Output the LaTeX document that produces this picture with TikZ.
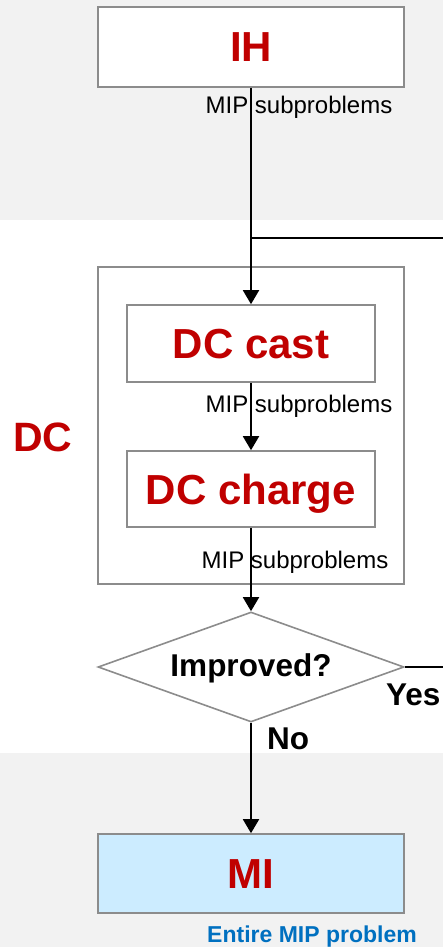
\documentclass[tikz,border=0pt]{standalone}
\usepackage{fontspec}
\setmainfont{Liberation Sans}
\usetikzlibrary{arrows.meta,shapes.geometric}
\definecolor{bandgray}{HTML}{F2F2F2}
\definecolor{boxgray}{HTML}{8C8C8C}
\definecolor{darkred}{HTML}{C00000}
\definecolor{miblue}{HTML}{CCECFF}
\definecolor{txtblue}{HTML}{0070C0}
\newcommand{\myfs}[1]{\fontsize{#1}{#1}\selectfont}
\tikzset{
  stagebox/.style={draw=boxgray, line width=1.6pt, fill=white, rectangle, inner sep=0pt,
    text height=30pt, text depth=0pt, font=\myfs{42}\bfseries, text=darkred},
  flow/.style={draw=black, line width=1.9pt},
  flowarrow/.style={flow, -{Triangle[width=16pt,length=14pt]}},
  smalllbl/.style={inner sep=0pt, anchor=base, font=\myfs{24}},
  boldlbl/.style={inner sep=0pt, font=\myfs{31.5}\bfseries},
}
\begin{document}
\begin{tikzpicture}[x=1pt,y=-1pt]
\useasboundingbox (0,0) rectangle (443,947);
% background bands
\fill[bandgray] (0,0) rectangle (443,220);
\fill[bandgray] (0,753) rectangle (443,947);

% outer DC box
\node[draw=boxgray, line width=1.6pt, rectangle, inner sep=0pt, minimum width=306pt, minimum height=317pt] (dcouter) at (251,425.5) {};

% boxes
\node[stagebox, minimum width=306pt, minimum height=80pt] (ih) at (251,47) {IH};
\node[stagebox, minimum width=248pt, minimum height=77pt] (dccast) at (251,343.5) {DC cast};
\node[stagebox, minimum width=248pt, minimum height=76pt] (dccharge) at (251,489) {DC charge};
\node[draw=boxgray, line width=1.6pt, fill=white, diamond, aspect=2.8, inner sep=0pt,
  minimum width=306pt, minimum height=110pt, text height=23pt, text depth=0pt,
  font=\myfs{31.5}\bfseries] (dec) at (251,667) {\raisebox{2pt}{Improved?}};
\node[stagebox, fill=miblue, minimum width=306pt, minimum height=79pt] (mi) at (251,873.5) {MI};

% coordinates
\coordinate (join) at (251,238);
\coordinate (loopend) at (443,238);
\coordinate (yesend) at (443,667);

% connectors
\draw[flowarrow] (ih.south) -- (dccast.north);
\draw[flow] (loopend) -- (join);
\draw[flowarrow] (dccast.south) -- (dccharge.north);
\draw[flowarrow] (dccharge.south) -- (dec.north);
\draw[flow] (dec.east) -- (yesend);
\draw[flowarrow] (dec.south) -- (mi.north);

% labels
\node[smalllbl] (lbl1) at (299,113.3) {MIP subproblems};
\node[smalllbl] (lbl2) at (299,412.7) {MIP subproblems};
\node[smalllbl] (lbl3) at (295,568.3) {MIP subproblems};
\node[inner sep=0pt, anchor=base, font=\myfs{41}\bfseries, text=darkred] (dclbl) at (43,451.7) {DC};
\node[boldlbl, anchor=base west] (yes) at (386,705) {Yes};
\node[boldlbl, anchor=base west] (no) at (267,749.3) {No};
\node[inner sep=0pt, anchor=base, font=\myfs{23}\bfseries, text=txtblue] (entire) at (312,942.7) {Entire MIP problem};
\end{tikzpicture}
\end{document}
